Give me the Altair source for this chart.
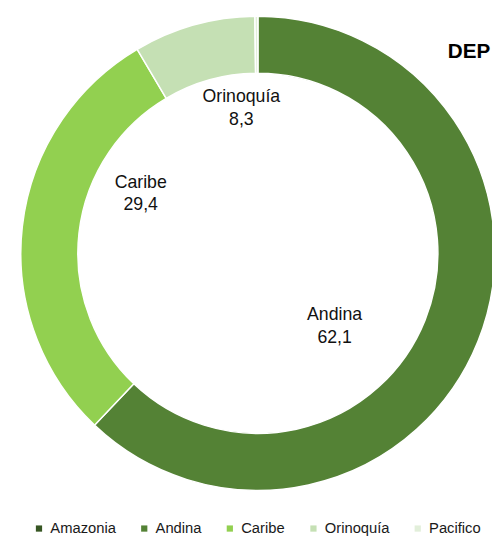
import altair as alt
import pandas as pd

regions = ["Amazonia", "Andina", "Caribe", "Orinoquía", "Pacífico"]
legend_names = ["Amazonia", "Andina", "Caribe", "Orinoquía", "Pacifico"]
shares = [0.0, 62.1, 29.4, 8.3, 0.2]
colors = ["#375623", "#548235", "#92D050", "#C5E0B4", "#E2EFDA"]
labeled = ["Andina", "Caribe", "Orinoquía"]
title_text = "DEP"

df = pd.DataFrame({
    "region": legend_names,
    "name": regions,
    "value": shares,
    "idx": list(range(len(regions))),
})
df["label"] = [n + "\n" + f"{v:.1f}".replace(".", ",") for n, v in zip(regions, shares)]

CX, CY = 254, 245
FONT = "Liberation Sans"

base = alt.Chart(df).encode(
    theta=alt.Theta("value:Q", stack=True),
    order=alt.Order("idx:Q"),
    x=alt.value(CX),
    y=alt.value(CY),
)

arcs = base.mark_arc(outerRadius=241, innerRadius=183, stroke="white", strokeWidth=1.5).encode(
    color=alt.Color(
        "region:N",
        sort=legend_names,
        scale=alt.Scale(domain=legend_names, range=colors),
        legend=alt.Legend(
            orient="none", legendX=24, legendY=517, direction="horizontal",
            title=None, symbolType="square", symbolSize=40, symbolStrokeWidth=0,
            labelFontSize=15, labelFont=FONT, labelColor="#1a1a1a",
            columnPadding=21, labelOffset=4,
        ),
    )
)

offsets = {"Andina": (-52, 11), "Caribe": (20, -56), "Orinoquía": (21, -24)}
texts = []
for name in labeled:
    dx, dy = offsets[name]
    t = base.transform_calculate(
        t=f"datum.name == '{name}' ? datum.label : ''"
    ).mark_text(
        radius=140, dx=dx, dy=dy, fontSize=18, font=FONT, color="#111111",
        lineBreak="\n", lineHeight=23, align="center", baseline="middle",
    ).encode(text="t:N")
    texts.append(t)

title = alt.Chart(pd.DataFrame({"t": [title_text]})).mark_text(
    align="left", baseline="alphabetic", fontSize=21, fontWeight="bold", font=FONT, color="#000000"
).encode(text="t:N", x=alt.value(447), y=alt.value(46))

chart = alt.layer(arcs, *texts, title).properties(
    width=492, height=532, padding=0, autosize=alt.AutoSizeParams(type="none")
).configure_view(stroke=None)

chart.save("out.html", embed_options={"renderer": "svg", "actions": False})
